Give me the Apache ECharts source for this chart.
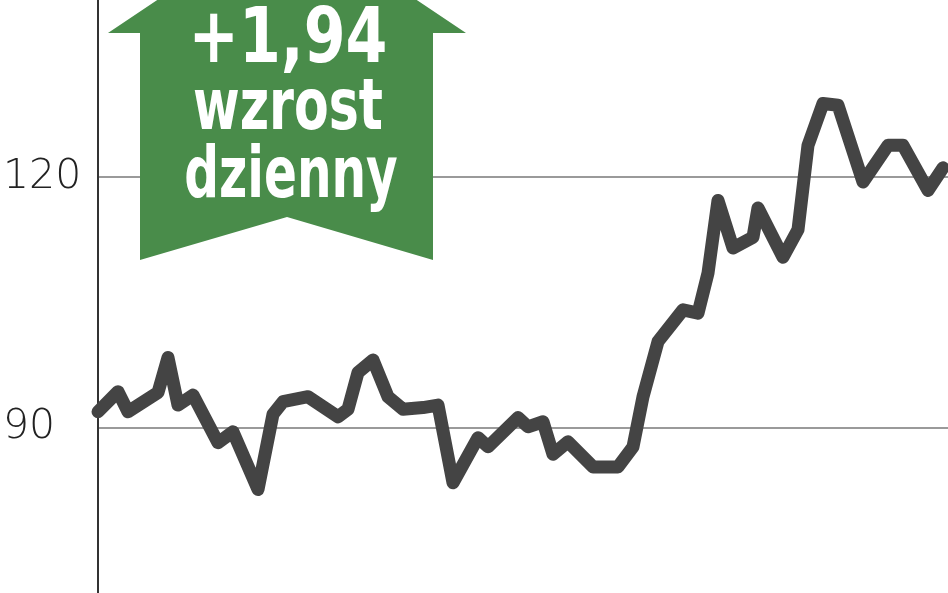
<!DOCTYPE html>
<html>
<head>
<meta charset="utf-8">
<script src="https://cdn.jsdelivr.net/npm/echarts@6/dist/echarts.min.js"></script>
<style>
  html, body { margin: 0; padding: 0; background: #fff; }
  #main { width: 948px; height: 593px; }
</style>
</head>
<body>
<div id="main"></div>
<script>
// numer sesji (oś X) i kurs zamknięcia
const sessions = [0, 4, 6, 12, 14, 16, 19, 24, 27, 32, 35, 37, 42, 48, 50, 52, 55, 58, 61, 65,
  68, 71, 76, 78, 84, 86, 89, 91, 94, 99, 104, 107, 109, 112, 117, 120, 122, 124, 127, 131,
  132, 137, 140, 142, 145, 148, 153, 158, 161, 166, 169];
const prices = [91.9, 94.3, 91.9, 94.2, 98.4, 92.7, 93.9, 88.2, 89.5, 82.6, 91.6, 93.1, 93.7, 91.3, 92.2, 96.6, 98.1, 93.7, 92.2, 92.4,
  92.7, 83.4, 88.8, 87.7, 91.2, 90.1, 90.7, 86.8, 88.3, 85.3, 85.3, 87.7, 93.7, 100.3, 104.1, 103.7, 108.5, 117.2, 111.5, 112.8,
  116.3, 110.4, 113.7, 123.8, 128.8, 128.6, 119.4, 123.8, 123.8, 118.4, 121.1];
const yTicks = [90, 120];
const changeText = '+1,94';
const changeLabel = ['wzrost', 'dzienny'];

let myChart = echarts.init(document.getElementById('main'));

const arrowFont = 'bold 72px "DejaVu Sans Condensed", sans-serif';

let option = {
  animation: false,
  grid: { left: 97, right: 0, top: 0, bottom: 0 },
  xAxis: {
    type: 'value',
    min: 0,
    max: 170,
    show: false
  },
  yAxis: {
    type: 'value',
    min: 70.2,
    max: 141.2,
    axisLine: { show: true, lineStyle: { color: '#333', width: 2 } },
    axisTick: { show: false, customValues: yTicks },
    axisLabel: {
      customValues: yTicks,
      align: 'left',
      margin: 95,
      fontSize: 41,
      fontFamily: 'DejaVu Sans',
      fontWeight: 200,
      color: '#222'
    },
    splitLine: { show: true, lineStyle: { color: '#9a9a9a', width: 2 } }
  },
  series: [{
    type: 'line',
    data: sessions.map((s, i) => [s, prices[i]]),
    showSymbol: false,
    z: 3,
    lineStyle: { color: '#444', width: 13, join: 'round', cap: 'round' }
  }],
  //strzałka z dzienną zmianą
  graphic: [
    {
      type: 'polygon',
      z: 100,
      shape: {
        points: [[287, -87], [466, 33], [433, 33], [433, 260], [287, 217], [140, 260], [140, 33], [108, 33]]
      },
      style: { fill: '#498c4a' }
    },
    {
      type: 'text', z: 101, x: 288, y: 42, scaleX: 0.88,
      style: { text: changeText, fill: '#fff', align: 'center', verticalAlign: 'middle', font: 'bold 76px "DejaVu Sans Condensed", sans-serif' }
    },
    {
      type: 'text', z: 101, x: 288, y: 110, scaleX: 0.78,
      style: { text: changeLabel[0], fill: '#fff', align: 'center', verticalAlign: 'middle', font: arrowFont }
    },
    {
      type: 'text', z: 101, x: 291, y: 178, scaleX: 0.75,
      style: { text: changeLabel[1], fill: '#fff', align: 'center', verticalAlign: 'middle', font: arrowFont }
    }
  ]
};

myChart.setOption(option);
</script>
</body>
</html>
